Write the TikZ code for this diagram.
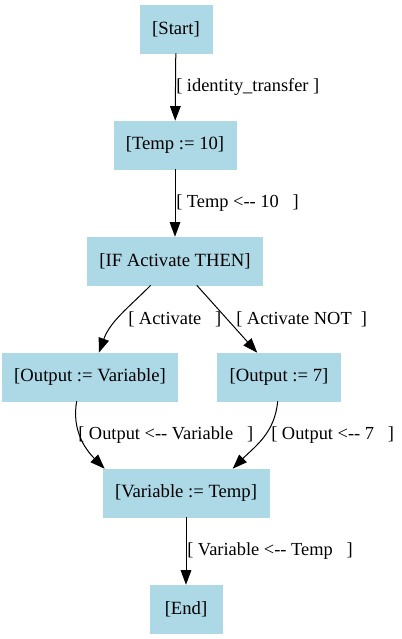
\documentclass[tikz,border=0pt]{standalone}
\usepackage{fontspec}
\setmainfont{Liberation Serif}[Ligatures=TeXOff]
\usetikzlibrary{arrows.meta}
\definecolor{lightblue}{RGB}{173,216,230}
\begin{document}
\begin{tikzpicture}[
        x=0.75pt, y=-0.75pt,
        box/.style={rectangle, draw=lightblue, fill=lightblue, minimum width=54pt, minimum height=36pt, inner xsep=9pt, font=\fontsize{14}{17}\selectfont},
        lbl/.style={anchor=west, inner sep=0pt, font=\fontsize{13.8}{17}\selectfont},
        arrow/.style={->, >={Triangle[length=11pt, width=8pt]}, line width=0.75pt}
    ]
    \useasboundingbox (0,0) rectangle (401,639);
    \node[box] (start) at (176,29) {[Start]};
    \node[box] (temp) at (175,145) {[Temp := 10]};
    \node[box] (ifact) at (175,261) {[IF Activate THEN]};
    \node[box] (outvar) at (90,377) {[Output := Variable]};
    \node[box] (outseven) at (279,377) {[Output := 7]};
    \node[box] (vartemp) at (186,493) {[Variable := Temp]};
    \node[box] (endn) at (186,609) {[End]};
    \node[lbl] (lstart) at (176,87) {[ identity\_transfer ]};
    \node[lbl] (ltemp) at (176,203) {[ Temp <-- 10\ \ \ ]};
    \node[lbl] (lact) at (128,319) {[ Activate\ \ \ ]};
    \node[lbl] (lnot) at (236,319) {[ Activate NOT\ \ ]};
    \node[lbl] (loutvar) at (78,435) {[ Output <-- Variable\ \ \ ]};
    \node[lbl] (loutseven) at (271,435) {[ Output <-- 7\ \ \ ]};
    \node[lbl] (lvartemp) at (187,551) {[ Variable <-- Temp\ \ \ ]};
    \draw[arrow] (start) -- (temp);
    \draw[arrow] (temp) -- (ifact);
    \draw[arrow] (ifact) to[out=-135, in=70] (outvar);
    \draw[arrow] (ifact) -- (outseven);
    \draw[arrow] ([xshift=-10pt]outvar.south) to[out=-100, in=135] ([xshift=-61pt]vartemp.north);
    \draw[arrow] ([xshift=-1pt]outseven.south) to[out=-95, in=45] ([xshift=35pt]vartemp.north);
    \draw[arrow] (vartemp) -- (endn);
\end{tikzpicture}
\end{document}
